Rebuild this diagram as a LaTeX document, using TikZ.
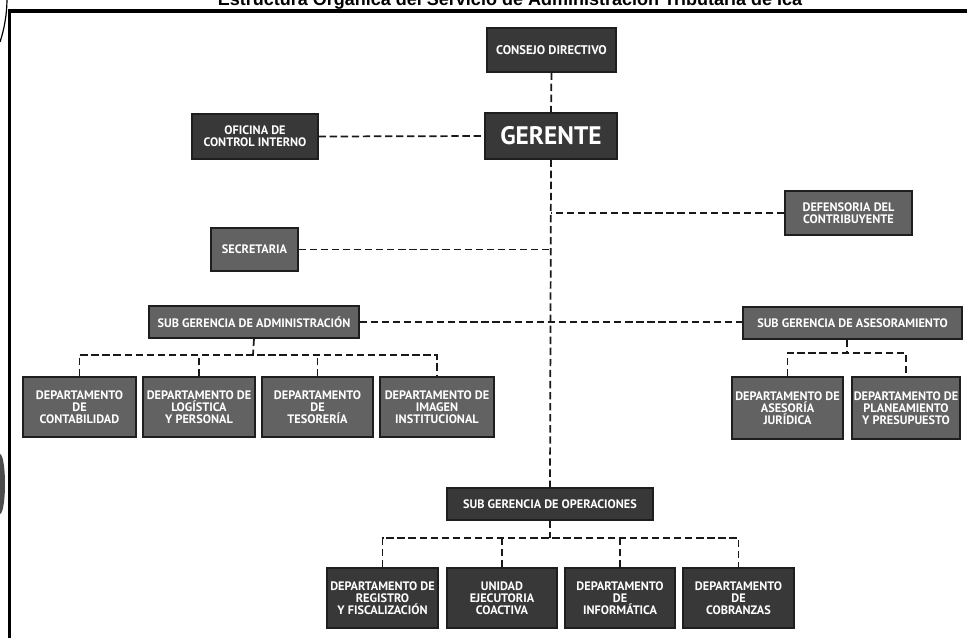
\documentclass[tikz,border=0pt]{standalone}
\usepackage{fontspec}
\setmainfont{Liberation Sans}
\newfontfamily\bxfont{PT Sans}
\definecolor{boxdark}{RGB}{56,56,56}
\definecolor{boxmid}{RGB}{98,98,98}
\definecolor{edge}{RGB}{30,30,30}
\begin{document}
\begin{tikzpicture}[x=0.75pt,y=-0.75pt,
  bx/.style 2 args={minimum width=#1*0.75pt, minimum height=#2*0.75pt},
  org/.style={draw=edge, line width=0.9pt, text=white, inner sep=1pt, align=center,
    font=\bxfont\bfseries\fontsize{9.2}{9}\selectfont},
  dk/.style={org, fill=boxdark},
  md/.style={org, fill=boxmid},
  link/.style={line width=1.3pt, dash pattern=on 5.5pt off 2.8pt, draw=black!90}]
\useasboundingbox (0,0) rectangle (967,637);
\clip (0,0) rectangle (967,637);
% frame and scan marks
\node[font=\bfseries\fontsize{13.5}{15}\selectfont, anchor=base, inner sep=0pt] (title) at (510,5)
  {Estructura Orgánica del Servicio de Administración Tributaria de Ica};
\draw[line width=2.3pt] (9.5,640) -- (9.5,11) -- (970,11);
\draw[line width=0.9pt] (0,42) .. controls (4,30) and (7,15) .. (7,-2);
\fill[black!70] (0,484) ellipse (5 and 30);
% nodes
\node[dk, bx={129}{44}, font=\bxfont\bfseries\fontsize{9.4}{11}\selectfont] (cons) at (551.5,50) {CONSEJO DIRECTIVO};
\node[dk, bx={132}{46}, font=\bxfont\bfseries\fontsize{19}{21}\selectfont] (ger) at (551,136) {GERENTE};
\node[dk, bx={126}{45}] (ofi) at (255,136.5) {OFICINA DE\\CONTROL INTERNO};
\node[md, bx={127}{44}] (def) at (848.5,213) {DEFENSORIA DEL\\CONTRIBUYENTE};
\node[md, bx={87}{43}] (sec) at (254.5,249.5) {SECRETARIA};
\node[md, bx={210}{32}] (sga) at (254,322) {SUB GERENCIA DE ADMINISTRACIÓN};
\node[md, bx={219}{32}] (sgs) at (852.5,323) {SUB GERENCIA DE ASESORAMIENTO};
\node[md, bx={113}{60}] (d1) at (79.5,407) {DEPARTAMENTO\\DE\\CONTABILIDAD};
\node[md, bx={112}{60}] (d2) at (199,407) {DEPARTAMENTO DE\\LOGÍSTICA\\Y PERSONAL};
\node[md, bx={111}{60}] (d3) at (317.5,407) {DEPARTAMENTO\\DE\\TESORERÍA};
\node[md, bx={114}{60}] (d4) at (437,407) {DEPARTAMENTO DE\\IMAGEN\\INSTITUCIONAL};
\node[md, bx={111}{62}] (a1) at (787.5,408) {DEPARTAMENTO DE\\ASESORÍA\\JURÍDICA};
\node[md, bx={108}{62}] (a2) at (906,408) {DEPARTAMENTO DE\\PLANEAMIENTO\\Y PRESUPUESTO};
\node[dk, bx={206}{32}] (sgo) at (550,504) {SUB GERENCIA DE OPERACIONES};
\node[dk, bx={111}{60}] (o1) at (382.5,598) {DEPARTAMENTO DE\\REGISTRO\\Y FISCALIZACIÓN};
\node[dk, bx={110}{60}] (o2) at (502,598) {UNIDAD\\EJECUTORIA\\COACTIVA};
\node[dk, bx={110}{60}] (o3) at (620,598) {DEPARTAMENTO\\DE\\INFORMÁTICA};
\node[dk, bx={111}{60}] (o4) at (738.5,598) {DEPARTAMENTO\\DE\\COBRANZAS};
% bus coordinates
\coordinate (ab) at (253,355);
\coordinate (sb) at (847,353);
\coordinate (ob) at (551,538);
% connectors
\draw[link] (cons.south) -- (ger.north);
\draw[link] (ofi.east) -- (ger.west);
\draw[link] (ger.south) -- (sgo.north);
\draw[link] (def.west) -- (def.west -| ger.south);
\draw[link] (sec.east) -- (sec.east -| ger.south);
\draw[link] (sga.east) -- (sga.east -| sgs.west);
\draw[link] (sga.south) -- (ab);
\draw[link] (d1.north) -- (d1.north |- ab) -- (d4.north |- ab) -- (d4.north);
\draw[link] (d2.north) -- (d2.north |- ab);
\draw[link] (d3.north) -- (d3.north |- ab);
\draw[link] (sb |- sgs.south) -- (sb);
\draw[link] (a1.north) -- (a1.north |- sb) -- (a2.north |- sb) -- (a2.north);
\draw[link] (sgo.south) -- (sgo.south |- ob);
\draw[link] (o1.north) -- (o1.north |- ob) -- (o4.north |- ob) -- (o4.north);
\draw[link] (o2.north) -- (o2.north |- ob);
\draw[link] (o3.north) -- (o3.north |- ob);
\end{tikzpicture}
\end{document}
